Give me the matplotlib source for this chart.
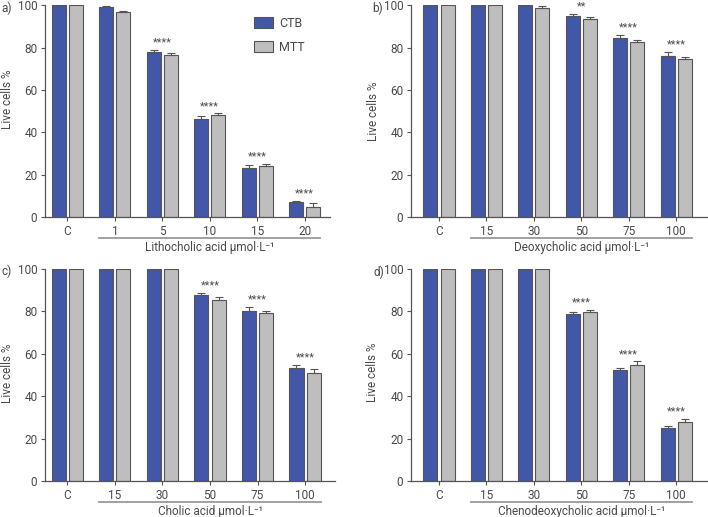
import numpy as np
import matplotlib.pyplot as plt
from matplotlib.patches import Patch

plt.rcParams['font.family'] = ['Roboto', 'DejaVu Sans']

groups_a = ["C", "1", "5", "10", "15", "20"]
groups_b = ["C", "15", "30", "50", "75", "100"]

ctb_a = [100, 99.2, 78, 46.5, 23, 7]
ctb_a_err = [0, 0.4, 1.0, 1.2, 1.4, 0.7]
mtt_a = [100, 97, 76.8, 48.2, 24, 4.7]
mtt_a_err = [0, 0.3, 0.8, 0.8, 1.1, 2.0]
stars_a = ["", "", "****", "****", "****", "****"]

ctb_b = [100, 100, 100, 95, 84.7, 76.2]
ctb_b_err = [0, 0, 0.3, 1.2, 1.3, 1.8]
mtt_b = [100, 100, 98.8, 93.6, 82.8, 74.8]
mtt_b_err = [0, 0, 1.0, 1.0, 0.8, 1.0]
stars_b = ["", "", "", "**", "****", "****"]

ctb_c = [100, 100, 100, 87.7, 80.3, 53.2]
ctb_c_err = [0, 0, 0, 1.2, 1.8, 1.6]
mtt_c = [100, 100, 100, 85.2, 79.2, 51]
mtt_c_err = [0, 0, 0, 1.8, 1.0, 1.7]
stars_c = ["", "", "", "****", "****", "****"]

ctb_d = [100, 100, 100, 79, 52.2, 25]
ctb_d_err = [0, 0, 0, 0.8, 1.2, 0.9]
mtt_d = [100, 100, 100, 79.5, 54.6, 28]
mtt_d_err = [0, 0, 0, 1.1, 1.8, 1.3]
stars_d = ["", "", "", "****", "****", "****"]

xlabels = ["Lithocholic acid μmol·L⁻¹", "Deoxycholic acid μmol·L⁻¹",
           "Cholic acid μmol·L⁻¹", "Chenodeoxycholic acid μmol·L⁻¹"]
letters = ["a)", "b)", "c)", "d)"]

BLUE = "#4257a8"
GREY = "#bebebe"
EDGE = "#555555"
TXT = "#4a4a4a"
FS = 8.5

fig = plt.figure(figsize=(7.08, 5.17), dpi=100)
W, H = 708, 517


def add_axes(x0, x1, ytop, ybot):
    return fig.add_axes([x0 / W, 1 - ybot / H, (x1 - x0) / W, (ybot - ytop) / H])


panels = [
    (add_axes(45, 330, 5.5, 217), groups_a, ctb_a, ctb_a_err, mtt_a, mtt_a_err, stars_a, -0.47, 5.53),
    (add_axes(411, 707, 5.5, 217), groups_b, ctb_b, ctb_b_err, mtt_b, mtt_b_err, stars_b, -0.59, 5.65),
    (add_axes(45, 335, 269, 481), groups_b, ctb_c, ctb_c_err, mtt_c, mtt_c_err, stars_c, -0.47, 5.63),
    (add_axes(411, 707, 269, 481), groups_b, ctb_d, ctb_d_err, mtt_d, mtt_d_err, stars_d, -0.59, 5.65),
]
# panel letter positions in pixels (left, centre y)
letter_pos = [(1, 8), (372, 8), (1, 271), (374, 272)]
# y-label centre in axes fraction
ylabel_pos = [(-0.133, 0.555), (-0.128, 0.5), (-0.131, 0.51), (-0.131, 0.515)]

bw = 0.295
off = 0.18
for k, (ax, groups, ctb, ctb_err, mtt, mtt_err, stars, xl, xr) in enumerate(panels):
    x = np.arange(len(groups))
    ax.bar(x - off, ctb, bw, color=BLUE, edgecolor=EDGE, linewidth=0.8, zorder=2)
    ax.bar(x + off, mtt, bw, color=GREY, edgecolor=EDGE, linewidth=0.8, zorder=2)
    for xs, v, e in [(x - off, ctb, ctb_err), (x + off, mtt, mtt_err)]:
        e = np.array(e)
        m = e > 0
        ax.errorbar(xs[m], np.array(v)[m], yerr=[np.zeros(m.sum()), e[m]], fmt="none",
                    ecolor=EDGE, elinewidth=0.8, capsize=3, capthick=0.8, zorder=3)
    for i, s in enumerate(stars):
        if s:
            top = max(ctb[i] + ctb_err[i], mtt[i] + mtt_err[i])
            ax.text(x[i], top + 3.5, s, ha="center", va="center", fontsize=8,
                    color=TXT, clip_on=False)

    ax.set_xlim(xl, xr)
    ax.set_ylim(0, 100)
    ax.set_yticks([0, 20, 40, 60, 80, 100])
    ax.set_xticks(x)
    ax.set_xticklabels(groups)
    for sp in ["top", "right"]:
        ax.spines[sp].set_visible(False)
    for sp in ["left", "bottom"]:
        ax.spines[sp].set_color(EDGE)
        ax.spines[sp].set_linewidth(0.9)
    ax.tick_params(axis="both", colors=EDGE, labelcolor=TXT, labelsize=FS, length=3,
                   width=0.8, pad=2.5)
    ax.set_ylabel("Live cells %", fontsize=FS, color=TXT, va="center")
    ax.yaxis.set_label_coords(*ylabel_pos[k])

    # underline spanning treated groups
    x0 = 1 - off - bw / 2
    x1 = x[-1] + off + bw / 2
    ax.plot([x0, x1], [-0.099, -0.099], color="#9a9a9a", lw=1.3,
            transform=ax.get_xaxis_transform(), clip_on=False)
    ax.text((x0 + x1) / 2, -0.145, xlabels[k], transform=ax.get_xaxis_transform(),
            ha="center", va="center", fontsize=FS, color=TXT)
    lx, ly = letter_pos[k]
    fig.text(lx / W, 1 - ly / H, letters[k], ha="left", va="center", fontsize=FS, color=TXT)

handles = [Patch(facecolor=BLUE, edgecolor=EDGE, linewidth=0.8, label="CTB"),
           Patch(facecolor=GREY, edgecolor=EDGE, linewidth=0.8, label="MTT")]
panels[0][0].legend(handles=handles, loc="upper left", bbox_to_anchor=(0.713, 0.975),
                    frameon=False, fontsize=FS + 0.5, handlelength=1.45, handleheight=1.0,
                    labelspacing=0.85, handletextpad=0.5, borderpad=0, labelcolor=TXT)

fig.savefig("out.png", dpi=100)
